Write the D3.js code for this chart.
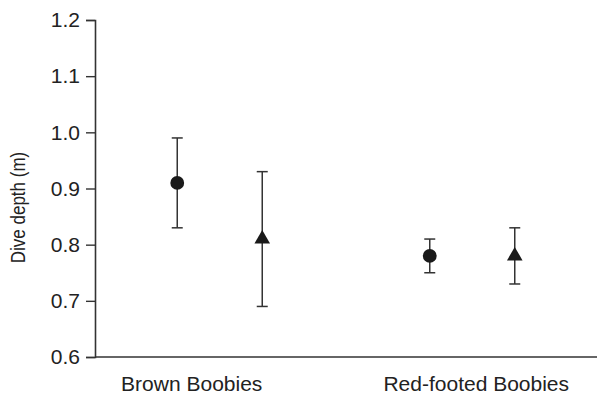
<!DOCTYPE html>
<html>
<head>
<meta charset="utf-8">
<script src="https://cdn.jsdelivr.net/npm/d3@7"></script>
<style>
  body { margin: 0; background: #fff; }
  text { font-family: "Liberation Sans", Arial, sans-serif; fill: #222; }
</style>
</head>
<body>
<div id="chart"></div>
<script>
const groups = ["Brown Boobies", "Red-footed Boobies"];
const series = ["circle", "triangle"];
// mean, lower, upper per group, per series
const means = [[0.91, 0.81], [0.78, 0.78]];
const lows = [[0.83, 0.69], [0.75, 0.73]];
const highs = [[0.99, 0.93], [0.81, 0.83]];
const yTicks = [0.6, 0.7, 0.8, 0.9, 1.0, 1.1, 1.2];

const W = 597, H = 396;
const MARGIN = { top: 20, right: 0, bottom: 39, left: 95 };

const svg = d3.select("#chart").append("svg")
  .attr("width", W).attr("height", H);

const y = d3.scaleLinear().domain([0.6, 1.2]).range([H - MARGIN.bottom, MARGIN.top]);
const x = d3.scalePoint().domain(groups).range([MARGIN.left, W - MARGIN.right]).padding(0.494);
const xs = d3.scalePoint().domain(series).range([-42.5, 42.5]);

// y axis
const yAxis = svg.append("g")
  .attr("transform", `translate(${MARGIN.left},0)`)
  .call(d3.axisLeft(y).tickValues(yTicks).tickFormat(d3.format(".1f")).tickSize(9).tickPadding(6));
yAxis.select(".domain").attr("stroke", "#333").attr("stroke-width", 1.6);
yAxis.selectAll(".tick line").attr("stroke", "#333").attr("stroke-width", 1.4);
yAxis.selectAll(".tick text").style("font-size", "21px").attr("fill", "#222")
  .style("font-family", "'Liberation Sans', Arial, sans-serif");

// x axis line
svg.append("line")
  .attr("x1", MARGIN.left).attr("x2", W)
  .attr("y1", y(0.6)).attr("y2", y(0.6))
  .attr("stroke", "#333").attr("stroke-width", 1.6);

// x labels
const labelShift = [-28, 4];
svg.selectAll("text.xlab").data(groups).join("text")
  .attr("class", "xlab")
  .attr("x", (d, i) => x(d) + labelShift[i])
  .attr("y", 391)
  .attr("text-anchor", "middle")
  .style("font-size", "21px")
  .text(d => d);

// y title
svg.append("text")
  .attr("transform", `translate(25,${(y(0.6) + y(1.2)) / 2 + 19}) rotate(-90) scale(1,1.2)`)
  .attr("text-anchor", "middle")
  .style("font-size", "17px")
  .text("Dive depth (m)");

const points = [];
groups.forEach((g, gi) => series.forEach((s, si) => {
  points.push({ g, s, m: means[gi][si], lo: lows[gi][si], hi: highs[gi][si] });
}));
const cx = d => x(d.g) + xs(d.s);

const bars = svg.append("g").selectAll("g").data(points).join("g");
bars.append("line")
  .attr("x1", cx).attr("x2", cx)
  .attr("y1", d => y(d.lo)).attr("y2", d => y(d.hi))
  .attr("stroke", "#333").attr("stroke-width", 1.5);
bars.append("line")
  .attr("x1", d => cx(d) - 5.5).attr("x2", d => cx(d) + 5.5)
  .attr("y1", d => y(d.hi)).attr("y2", d => y(d.hi))
  .attr("stroke", "#333").attr("stroke-width", 1.5);
bars.append("line")
  .attr("x1", d => cx(d) - 5.5).attr("x2", d => cx(d) + 5.5)
  .attr("y1", d => y(d.lo)).attr("y2", d => y(d.lo))
  .attr("stroke", "#333").attr("stroke-width", 1.5);

bars.append("path")
  .attr("transform", d => `translate(${cx(d)},${y(d.m)})`)
  .attr("d", d => d3.symbol().type(d.s === "circle" ? d3.symbolCircle : d3.symbolTriangle)
    .size(d.s === "circle" ? 150 : 105)())
  .attr("fill", "#1a1a1a");
</script>
</body>
</html>
